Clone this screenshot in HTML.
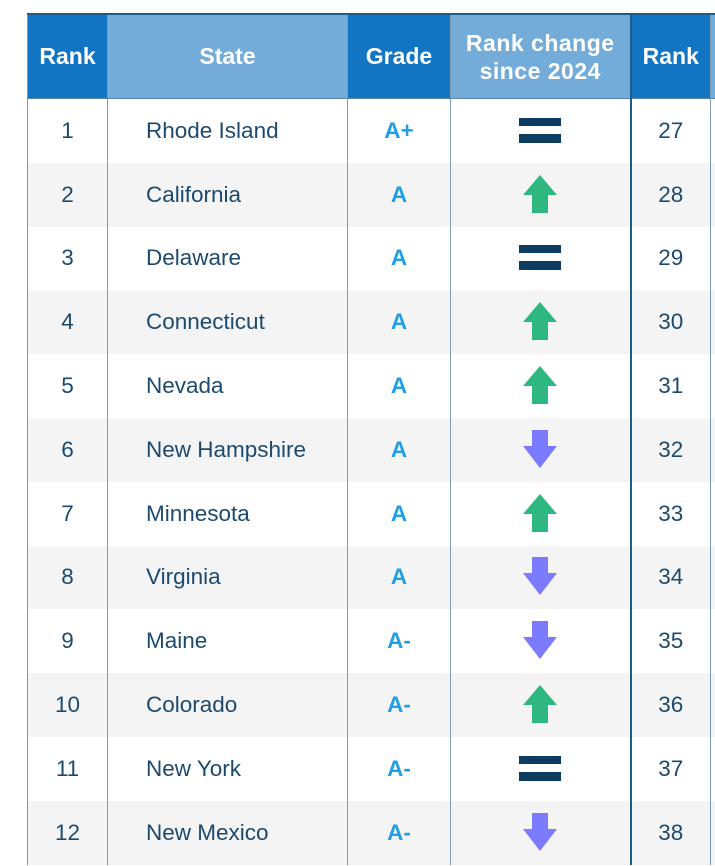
<!DOCTYPE html>
<html><head><style>
body{margin:0;width:715px;height:866px;overflow:hidden;background:#fff;font-family:"Liberation Sans",sans-serif;position:relative}
.t{position:absolute;left:27px;top:13px;border-collapse:collapse;table-layout:fixed;width:700px}
.t td,.t th{padding:0;border-left:1px solid #7f9bb3;border-right:1px solid #7f9bb3}
.t th{height:83px;color:#fff;font-size:23px;font-weight:bold;border-top:2px solid #1d5c86;border-bottom:1px solid #5a86ad}
.d{background:#1275c4}.l{background:#74acd9}
.t td{height:63.8px;color:#1c4a6e;font-size:22.5px;text-align:center}
.t tr:nth-child(odd) td{background:#f4f4f4}
.s{text-align:left!important;padding-left:38px!important}
.g{color:#1ea0e8!important;font-weight:bold}
.bd{border-left:2px solid #1d5c86!important}
</style></head><body>
<table class="t">
<colgroup><col style="width:80px"><col style="width:240px"><col style="width:103px"><col style="width:180px"><col style="width:80px"><col style="width:17px"></colgroup>
<tr><th class="d">Rank</th><th class="l">State</th><th class="d">Grade</th><th class="l" style="line-height:28px;letter-spacing:0.5px">Rank change<br>since 2024</th><th class="d bd">Rank</th><th class="l"></th></tr>
<tr><td>1</td><td class="s">Rhode Island</td><td class="g">A+</td><td>E</td><td class="bd">27</td><td></td></tr>
<tr><td>2</td><td class="s">California</td><td class="g">A</td><td>U</td><td class="bd">28</td><td></td></tr>
<tr><td>3</td><td class="s">Delaware</td><td class="g">A</td><td>E</td><td class="bd">29</td><td></td></tr>
<tr><td>4</td><td class="s">Connecticut</td><td class="g">A</td><td>U</td><td class="bd">30</td><td></td></tr>
<tr><td>5</td><td class="s">Nevada</td><td class="g">A</td><td>U</td><td class="bd">31</td><td></td></tr>
<tr><td>6</td><td class="s">New Hampshire</td><td class="g">A</td><td>D</td><td class="bd">32</td><td></td></tr>
<tr><td>7</td><td class="s">Minnesota</td><td class="g">A</td><td>U</td><td class="bd">33</td><td></td></tr>
<tr><td>8</td><td class="s">Virginia</td><td class="g">A</td><td>D</td><td class="bd">34</td><td></td></tr>
<tr><td>9</td><td class="s">Maine</td><td class="g">A-</td><td>D</td><td class="bd">35</td><td></td></tr>
<tr><td>10</td><td class="s">Colorado</td><td class="g">A-</td><td>U</td><td class="bd">36</td><td></td></tr>
<tr><td>11</td><td class="s">New York</td><td class="g">A-</td><td>E</td><td class="bd">37</td><td></td></tr>
<tr><td>12</td><td class="s">New Mexico</td><td class="g">A-</td><td>D</td><td class="bd">38</td><td></td></tr>
</table>
<script>
const U='<svg width="36" height="40" viewBox="0 0 36 40" style="display:block;margin:auto"><path d="M18 0L35 20H26V38H10V20H1Z" fill="#2eb87f"/></svg>';
const D='<svg width="36" height="40" viewBox="0 0 36 40" style="display:block;margin:auto"><path d="M10 0H26V16H35L18 38L1 16H10Z" fill="#7b7bff"/></svg>';
const E='<svg width="42" height="26" viewBox="0 0 42 26" style="display:block;margin:auto"><rect x="0" y="0" width="42" height="8" fill="#0d3c61"/><rect x="0" y="16" width="42" height="9" fill="#0d3c61"/></svg>';
document.querySelectorAll('.t tr').forEach((r,i)=>{if(!i)return;const c=r.children[3];c.innerHTML={U,D,E}[c.textContent.trim()];});
</script>
</body></html>
